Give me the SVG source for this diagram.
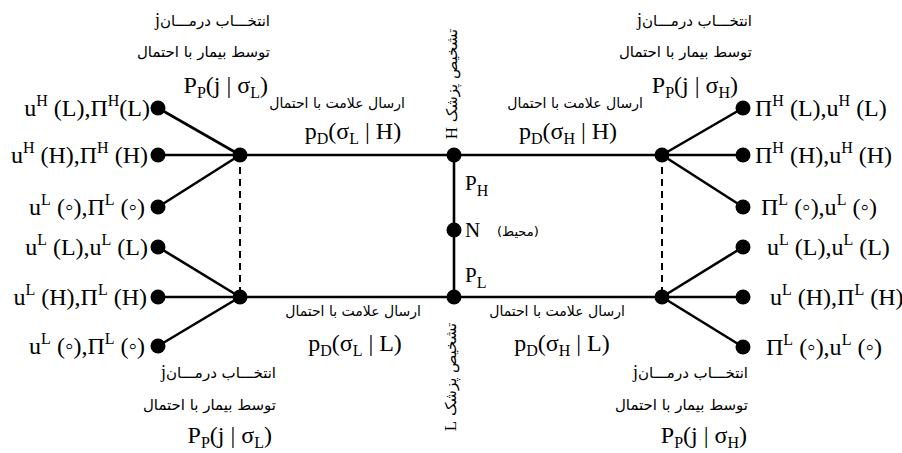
<svg xmlns="http://www.w3.org/2000/svg" width="902" height="453" viewBox="0 0 902 453">
<defs>
<style>
.m{font-family:"Liberation Serif","Times New Roman",serif;font-size:24px;fill:#000}
.s{font-size:16px}
.fa{font-family:"DejaVu Sans",sans-serif;font-size:14px;fill:#000}
.an{font-size:15px}
.e{stroke:#000;stroke-width:2.6;fill:none}
.d{stroke:#000;stroke-width:2;stroke-dasharray:7 5;fill:none}
.dot{fill:#000}
</style>
</defs>
<rect width="902" height="453" fill="#fff"/>
<g id="connectors">
<line class="e" x1="240" y1="155" x2="662" y2="155"/>
<line class="e" x1="240" y1="297" x2="662" y2="297"/>
<line class="e" x1="454" y1="155" x2="454" y2="297"/>
<line class="d" x1="240" y1="155" x2="240" y2="297"/>
<line class="d" x1="662" y1="155" x2="662" y2="297"/>
<line class="e" x1="240" y1="155" x2="158" y2="108"/>
<line class="e" x1="240" y1="155" x2="158" y2="155"/>
<line class="e" x1="240" y1="155" x2="158" y2="207"/>
<line class="e" x1="240" y1="297" x2="158" y2="247"/>
<line class="e" x1="240" y1="297" x2="158" y2="297"/>
<line class="e" x1="240" y1="297" x2="158" y2="346"/>
<line class="e" x1="662" y1="155" x2="743" y2="108"/>
<line class="e" x1="662" y1="155" x2="743" y2="155"/>
<line class="e" x1="662" y1="155" x2="743" y2="207"/>
<line class="e" x1="662" y1="297" x2="743" y2="247"/>
<line class="e" x1="662" y1="297" x2="743" y2="297"/>
<line class="e" x1="662" y1="297" x2="743" y2="347"/>
</g>
<g id="edge-labels">
<text class="fa" x="337" y="108" text-anchor="middle">ارسال علامت با احتمال</text>
<text class="m" x="353" y="139" text-anchor="middle">p<tspan class="s" dy="5">D</tspan><tspan dy="-5">(σ</tspan><tspan class="s" dy="5">L</tspan><tspan dy="-5"> | H)</tspan></text>
<text class="fa" x="575" y="108" text-anchor="middle">ارسال علامت با احتمال</text>
<text class="m" x="568" y="139" text-anchor="middle">p<tspan class="s" dy="5">D</tspan><tspan dy="-5">(σ</tspan><tspan class="s" dy="5">H</tspan><tspan dy="-5"> | H)</tspan></text>
<text class="fa" x="353" y="316" text-anchor="middle">ارسال علامت با احتمال</text>
<text class="m" x="355" y="351" text-anchor="middle">p<tspan class="s" dy="5">D</tspan><tspan dy="-5">(σ</tspan><tspan class="s" dy="5">L</tspan><tspan dy="-5"> | L)</tspan></text>
<text class="fa" x="557" y="316" text-anchor="middle">ارسال علامت با احتمال</text>
<text class="m" x="562" y="351" text-anchor="middle">p<tspan class="s" dy="5">D</tspan><tspan dy="-5">(σ</tspan><tspan class="s" dy="5">H</tspan><tspan dy="-5"> | L)</tspan></text>
<text class="m" x="465" y="190" style="font-size:21px">P<tspan class="s" dy="6">H</tspan></text>
<text class="m" x="465" y="282" style="font-size:21px">P<tspan class="s" dy="6">L</tspan></text>
</g>
<g id="node-H">
<circle class="dot" cx="454" cy="155" r="7.5"/>
<text direction="rtl" text-anchor="middle" transform="translate(457,84) rotate(-90)"><tspan class="fa an">تشخیص پزشک </tspan><tspan class="m" style="font-size:17px">H</tspan></text>
</g>
<g id="node-N">
<circle class="dot" cx="454" cy="230" r="7.5"/>
<text class="m" x="465" y="237" style="font-size:21px">N</text>
<text class="fa" x="497" y="236" style="font-size:13px">(محیط)</text>
</g>
<g id="node-L">
<circle class="dot" cx="454" cy="297" r="7.5"/>
<text direction="rtl" text-anchor="middle" transform="translate(456,377) rotate(-90)"><tspan class="fa an">تشخیص پزشک </tspan><tspan class="m" style="font-size:17px">L</tspan></text>
</g>
<g id="hub-TL">
<circle class="dot" cx="240" cy="155" r="7.5"/>
<text class="fa an" direction="rtl" x="270" y="26" text-anchor="start">انتخـــاب درمـــان<tspan class="m" style="font-size:18px">j</tspan></text>
<text class="fa an" direction="rtl" x="270" y="57" text-anchor="start">توسط بیمار با احتمال</text>
<text class="m" x="268" y="93" text-anchor="end">P<tspan class="s" dy="5">P</tspan><tspan dy="-5">(j | σ</tspan><tspan class="s" dy="5">L</tspan><tspan dy="-5">)</tspan></text>
</g>
<g id="hub-BL">
<circle class="dot" cx="240" cy="297" r="7.5"/>
<text class="fa an" direction="rtl" x="276" y="378" text-anchor="start">انتخـــاب درمـــان<tspan class="m" style="font-size:18px">j</tspan></text>
<text class="fa an" direction="rtl" x="276" y="410" text-anchor="start">توسط بیمار با احتمال</text>
<text class="m" x="272" y="443" text-anchor="end">P<tspan class="s" dy="5">P</tspan><tspan dy="-5">(j | σ</tspan><tspan class="s" dy="5">L</tspan><tspan dy="-5">)</tspan></text>
</g>
<g id="hub-TR">
<circle class="dot" cx="662" cy="155" r="7.5"/>
<text class="fa an" direction="rtl" x="752" y="26" text-anchor="start">انتخـــاب درمـــان<tspan class="m" style="font-size:18px">j</tspan></text>
<text class="fa an" direction="rtl" x="752" y="57" text-anchor="start">توسط بیمار با احتمال</text>
<text class="m" x="738" y="93" text-anchor="end">P<tspan class="s" dy="5">P</tspan><tspan dy="-5">(j | σ</tspan><tspan class="s" dy="5">H</tspan><tspan dy="-5">)</tspan></text>
</g>
<g id="hub-BR">
<circle class="dot" cx="662" cy="297" r="7.5"/>
<text class="fa an" direction="rtl" x="748" y="378" text-anchor="start">انتخـــاب درمـــان<tspan class="m" style="font-size:18px">j</tspan></text>
<text class="fa an" direction="rtl" x="748" y="410" text-anchor="start">توسط بیمار با احتمال</text>
<text class="m" x="747" y="443" text-anchor="end">P<tspan class="s" dy="5">P</tspan><tspan dy="-5">(j | σ</tspan><tspan class="s" dy="5">H</tspan><tspan dy="-5">)</tspan></text>
</g>
<g id="leaf-L1"><circle class="dot" cx="158" cy="108" r="7.5"/>
<text class="m" x="150" y="116" text-anchor="end">u<tspan class="s" dy="-10">H</tspan><tspan dy="10"> (L),Π</tspan><tspan class="s" dy="-10">H</tspan><tspan dy="10">(L)</tspan></text></g>
<g id="leaf-L2"><circle class="dot" cx="158" cy="155" r="7.5"/>
<text class="m" x="148" y="163" text-anchor="end">u<tspan class="s" dy="-10">H</tspan><tspan dy="10"> (H),Π</tspan><tspan class="s" dy="-10">H</tspan><tspan dy="10"> (H)</tspan></text></g>
<g id="leaf-L3"><circle class="dot" cx="158" cy="207" r="7.5"/>
<text class="m" x="145" y="215" text-anchor="end">u<tspan class="s" dy="-10">L</tspan><tspan dy="10"> (◦),Π</tspan><tspan class="s" dy="-10">L</tspan><tspan dy="10"> (◦)</tspan></text></g>
<g id="leaf-L4"><circle class="dot" cx="158" cy="247" r="7.5"/>
<text class="m" x="148" y="255" text-anchor="end">u<tspan class="s" dy="-10">L</tspan><tspan dy="10"> (L),u</tspan><tspan class="s" dy="-10">L</tspan><tspan dy="10"> (L)</tspan></text></g>
<g id="leaf-L5"><circle class="dot" cx="158" cy="297" r="7.5"/>
<text class="m" x="147" y="305" text-anchor="end">u<tspan class="s" dy="-10">L</tspan><tspan dy="10"> (H),Π</tspan><tspan class="s" dy="-10">L</tspan><tspan dy="10"> (H)</tspan></text></g>
<g id="leaf-L6"><circle class="dot" cx="158" cy="346" r="7.5"/>
<text class="m" x="145" y="354" text-anchor="end">u<tspan class="s" dy="-10">L</tspan><tspan dy="10"> (◦),Π</tspan><tspan class="s" dy="-10">L</tspan><tspan dy="10"> (◦)</tspan></text></g>
<g id="leaf-R1"><circle class="dot" cx="743" cy="108" r="7.5"/>
<text class="m" x="755" y="116">Π<tspan class="s" dy="-10">H</tspan><tspan dy="10"> (L),u</tspan><tspan class="s" dy="-10">H</tspan><tspan dy="10"> (L)</tspan></text></g>
<g id="leaf-R2"><circle class="dot" cx="743" cy="155" r="7.5"/>
<text class="m" x="755" y="163">Π<tspan class="s" dy="-10">H</tspan><tspan dy="10"> (H),u</tspan><tspan class="s" dy="-10">H</tspan><tspan dy="10"> (H)</tspan></text></g>
<g id="leaf-R3"><circle class="dot" cx="743" cy="207" r="7.5"/>
<text class="m" x="761" y="215">Π<tspan class="s" dy="-10">L</tspan><tspan dy="10"> (◦),u</tspan><tspan class="s" dy="-10">L</tspan><tspan dy="10"> (◦)</tspan></text></g>
<g id="leaf-R4"><circle class="dot" cx="743" cy="247" r="7.5"/>
<text class="m" x="767" y="255">u<tspan class="s" dy="-10">L</tspan><tspan dy="10"> (L),u</tspan><tspan class="s" dy="-10">L</tspan><tspan dy="10"> (L)</tspan></text></g>
<g id="leaf-R5"><circle class="dot" cx="743" cy="297" r="7.5"/>
<text class="m" x="770" y="305">u<tspan class="s" dy="-10">L</tspan><tspan dy="10"> (H),Π</tspan><tspan class="s" dy="-10">L</tspan><tspan dy="10"> (H)</tspan></text></g>
<g id="leaf-R6"><circle class="dot" cx="743" cy="347" r="7.5"/>
<text class="m" x="766" y="355">Π<tspan class="s" dy="-10">L</tspan><tspan dy="10"> (◦),u</tspan><tspan class="s" dy="-10">L</tspan><tspan dy="10"> (◦)</tspan></text></g>
</svg>
